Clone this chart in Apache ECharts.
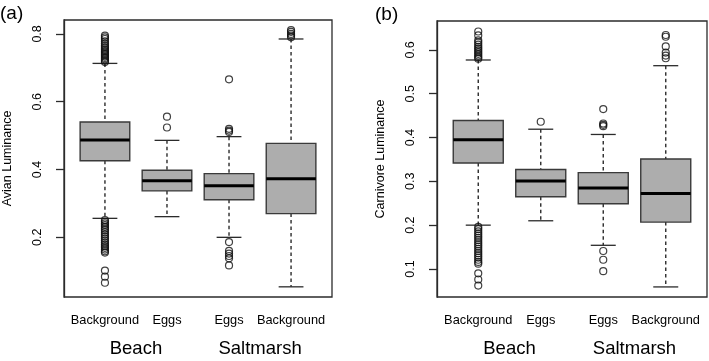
<!DOCTYPE html>
<html>
<head>
<meta charset="utf-8">
<script src="https://cdn.jsdelivr.net/npm/echarts@6.0.0/dist/echarts.min.js"></script>
<style>
  html, body { margin: 0; padding: 0; background: #fff; }
  #chart { width: 709px; height: 361px; }
</style>
</head>
<body>
<div id="chart"></div>
<script>
// box categories (left to right) and the habitat under each pair
const categories = ['Background', 'Eggs', 'Eggs', 'Background'];
const groups = ['Beach', 'Saltmarsh'];
const groupPos = [1.5, 3.5];

// [lower whisker, Q1, median, Q3, upper whisker]
const avianBoxes = [
    [0.256, 0.426, 0.487, 0.540, 0.713],
    [0.261, 0.337, 0.367, 0.398, 0.486],
    [0.200, 0.311, 0.352, 0.388, 0.497],
    [0.054, 0.270, 0.373, 0.477, 0.785]
];
const avianOutliers = [
    [0.717, 0.721, 0.725, 0.729, 0.733, 0.737, 0.741, 0.745, 0.749, 0.753, 0.757, 0.761, 0.766, 0.772, 0.778, 0.785, 0.790, 0.795,
     0.251, 0.246, 0.241, 0.236, 0.231, 0.226, 0.221, 0.215, 0.209, 0.203, 0.197, 0.191, 0.185, 0.179, 0.174, 0.169, 0.164, 0.159, 0.155,
     0.102, 0.084, 0.066],
    [0.556, 0.524],
    [0.666, 0.520, 0.515, 0.511, 0.186, 0.160, 0.152, 0.145, 0.138, 0.117],
    [0.790, 0.795, 0.800, 0.806, 0.811]
];

const carnBoxes = [
    [0.200, 0.342, 0.395, 0.439, 0.577],
    [0.210, 0.265, 0.301, 0.327, 0.419],
    [0.154, 0.249, 0.285, 0.320, 0.407],
    [0.059, 0.207, 0.272, 0.351, 0.564]
];
const carnOutliers = [
    [0.642, 0.633, 0.622, 0.617, 0.612, 0.607, 0.603, 0.599, 0.595, 0.591, 0.587, 0.583, 0.580,
     0.196, 0.191, 0.186, 0.181, 0.176, 0.171, 0.166, 0.161, 0.156, 0.151, 0.146, 0.141, 0.136, 0.131, 0.126, 0.121, 0.116, 0.112,
     0.090, 0.076, 0.062],
    [0.436],
    [0.465, 0.432, 0.429, 0.426, 0.141, 0.121, 0.095],
    [0.634, 0.630, 0.608, 0.594, 0.587, 0.581]
];

const avianTicks = [0.2, 0.4, 0.6, 0.8];
const carnTicks = [0.1, 0.2, 0.3, 0.4, 0.5, 0.6];

const FONT = 'Liberation Sans';
const INK = '#2b2b2b';
const BOX_FILL = '#adadad';
const BOX_HALF = 0.4;   // boxwex 0.8
const CAP_HALF = 0.2;   // staplewex 0.5

const chart = echarts.init(document.getElementById('chart'));

// draws one R style box: dashed whiskers, caps, grey box, thick median
function renderBox(params, api) {
    const x = api.value(0);
    const lo = api.value(1), q1 = api.value(2), med = api.value(3), q3 = api.value(4), hi = api.value(5);
    const c = (xx, yy) => api.coord([xx, yy]);
    const pLo = c(x, lo), pQ1 = c(x, q1), pQ3 = c(x, q3), pHi = c(x, hi);
    const boxL = c(x - BOX_HALF, q3), boxR = c(x + BOX_HALF, q1);
    const capL = c(x - CAP_HALF, 0)[0], capR = c(x + CAP_HALF, 0)[0];
    const medL = c(x - BOX_HALF, med), medR = c(x + BOX_HALF, med);
    const dash = { stroke: INK, lineWidth: 1.4, lineDash: [3.5, 3] };
    const solid = { stroke: INK, lineWidth: 1.3 };
    return {
        type: 'group',
        children: [
            { type: 'line', shape: { x1: pHi[0], y1: pHi[1], x2: pQ3[0], y2: pQ3[1] }, style: dash },
            { type: 'line', shape: { x1: pQ1[0], y1: pQ1[1], x2: pLo[0], y2: pLo[1] }, style: dash },
            { type: 'line', shape: { x1: capL, y1: pHi[1], x2: capR, y2: pHi[1] }, style: solid },
            { type: 'line', shape: { x1: capL, y1: pLo[1], x2: capR, y2: pLo[1] }, style: solid },
            { type: 'rect', shape: { x: boxL[0], y: boxL[1], width: boxR[0] - boxL[0], height: boxR[1] - boxL[1] },
              style: { fill: BOX_FILL, stroke: '#3a3a3a', lineWidth: 1.4 } },
            { type: 'line', shape: { x1: medL[0], y1: medL[1], x2: medR[0], y2: medR[1] },
              style: { stroke: '#000', lineWidth: 3 } }
        ]
    };
}

const boxData = boxes => boxes.map((b, i) => [i + 1].concat(b));
const outlierData = outs => outs.flatMap((arr, i) => arr.map(v => [i + 1, v]));

function xAxes(gridIndex) {
    return [
        {
            type: 'value', gridIndex: gridIndex, min: 0.34, max: 4.66, position: 'bottom',
            axisLine: { show: false }, axisTick: { show: false }, splitLine: { show: false },
            axisLabel: {
                customValues: [1, 2, 3, 4], margin: 17,
                formatter: v => categories[Math.round(v) - 1],
                color: '#000', fontFamily: FONT, fontSize: 12.8
            }
        },
        {
            type: 'value', gridIndex: gridIndex, min: 0.34, max: 4.66, position: 'bottom',
            axisLine: { show: false }, axisTick: { show: false }, splitLine: { show: false },
            axisLabel: {
                customValues: groupPos, margin: 42,
                formatter: v => groups[groupPos.indexOf(v)],
                color: '#000', fontFamily: FONT, fontSize: 18.5
            }
        }
    ];
}

function yAxis(gridIndex, min, max, ticks, name) {
    return {
        type: 'value', gridIndex: gridIndex, min: min, max: max,
        name: name, nameLocation: 'middle', nameGap: 50,
        nameTextStyle: { color: '#000', fontFamily: FONT, fontSize: 12.5 },
        axisLine: { show: true, onZero: false, lineStyle: { color: INK, width: 1.3 } },
        axisTick: { show: true, length: 8, customValues: ticks, lineStyle: { color: INK, width: 1.3 } },
        axisLabel: {
            customValues: ticks, rotate: 90, margin: 20,
            formatter: v => v.toFixed(1),
            color: '#000', fontFamily: FONT, fontSize: 12.5
        },
        splitLine: { show: false }
    };
}

const option = {
    animation: false,
    title: [
        { text: '(a)', left: 0, top: 4, padding: 0, textStyle: { color: '#000', fontFamily: FONT, fontSize: 19, fontWeight: 'normal' } },
        { text: '(b)', left: 375, top: 5, padding: 0, textStyle: { color: '#000', fontFamily: FONT, fontSize: 19, fontWeight: 'normal' } }
    ],
    grid: [
        { left: 62, top: 20, width: 270, height: 277, show: true, borderColor: INK, borderWidth: 1.3 },
        { left: 437, top: 21, width: 270, height: 276, show: true, borderColor: INK, borderWidth: 1.3 }
    ],
    xAxis: xAxes(0).concat(xAxes(1)),
    yAxis: [
        yAxis(0, 0.024, 0.841, avianTicks, 'Avian Luminance'),
        yAxis(1, 0.036, 0.666, carnTicks, 'Carnivore Luminance')
    ],
    series: [
        {
            type: 'custom', xAxisIndex: 0, yAxisIndex: 0, renderItem: renderBox,
            encode: { x: 0, y: [1, 2, 3, 4, 5] }, data: boxData(avianBoxes)
        },
        {
            type: 'scatter', xAxisIndex: 0, yAxisIndex: 0, symbol: 'circle', symbolSize: 7,
            itemStyle: { color: 'rgba(0,0,0,0)', borderColor: '#111', borderWidth: 1.2 },
            data: outlierData(avianOutliers)
        },
        {
            type: 'custom', xAxisIndex: 2, yAxisIndex: 1, renderItem: renderBox,
            encode: { x: 0, y: [1, 2, 3, 4, 5] }, data: boxData(carnBoxes)
        },
        {
            type: 'scatter', xAxisIndex: 2, yAxisIndex: 1, symbol: 'circle', symbolSize: 7,
            itemStyle: { color: 'rgba(0,0,0,0)', borderColor: '#111', borderWidth: 1.2 },
            data: outlierData(carnOutliers)
        }
    ]
};

chart.setOption(option);
</script>
</body>
</html>
